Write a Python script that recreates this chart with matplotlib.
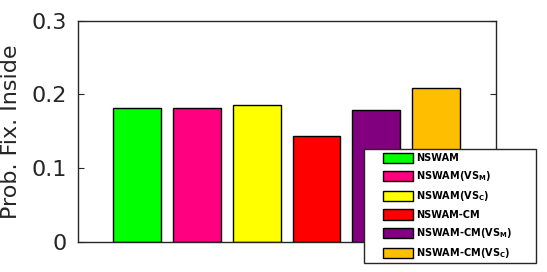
import matplotlib
matplotlib.use("Agg")
import matplotlib.pyplot as plt
from matplotlib.patches import Rectangle

labels = ["NSWAM", r"NSWAM(VS$_\mathbf{M}$)", r"NSWAM(VS$_\mathbf{C}$)",
          "NSWAM-CM", r"NSWAM-CM(VS$_\mathbf{M}$)", r"NSWAM-CM(VS$_\mathbf{C}$)"]
values = [0.182, 0.182, 0.186, 0.143, 0.179, 0.209]
colors = ["#00FF00", "#FF0080", "#FFFF00", "#FF0000", "#800080", "#FFBF00"]
yticks = [0, 0.1, 0.2, 0.3]
yticklabels = ["0", "0.1", "0.2", "0.3"]

plt.rcParams['font.family'] = ['DejaVu Sans']
plt.rcParams['mathtext.fontset'] = 'dejavusans'
fig = plt.figure(figsize=(5.47, 2.72), dpi=100)
ax = fig.add_axes([0.1417, 0.1103, 0.9062 - 0.1417, 0.9246 - 0.1103])

xs = list(range(1, len(values) + 1))
for x, v, c, l in zip(xs, values, colors, labels):
    ax.bar(x, v, width=0.8, color=c, edgecolor="black", linewidth=1.0, label=l)

ax.set_xlim(0, 7)
ax.set_ylim(0, 0.3)
ax.set_xticks([])
ax.set_yticks(yticks)
ax.set_yticklabels(yticklabels)
ax.tick_params(axis='y', direction='in', length=4, width=0.8, right=True,
               labelsize=16, labelcolor='#262626', color='#262626', pad=8)
for s in ax.spines.values():
    s.set_color('#262626')
    s.set_linewidth(1.0)
ax.set_ylabel("Prob. Fix. Inside", fontsize=16, color='#262626', labelpad=7)

# legend frame
x0, y0, x1, y1 = 364 / 547, 1 - 263.3 / 272, 536 / 547, 1 - 149.3 / 272
rect = Rectangle((x0, y0), x1 - x0, y1 - y0, transform=fig.transFigure,
                 facecolor='white', edgecolor='#262626', linewidth=1.0, zorder=5)
fig.patches.append(rect)

leg = fig.legend(loc='upper left', bbox_to_anchor=(383 / 547, 1 - 153 / 272),
                 bbox_transform=fig.transFigure, frameon=False,
                 prop={'size': 7, 'weight': 'bold'}, handlelength=3.1,
                 handleheight=1.25, handletextpad=0.3, labelspacing=0.62,
                 borderpad=0, borderaxespad=0)
leg.set_zorder(6)

fig.savefig("out.png", dpi=100)
